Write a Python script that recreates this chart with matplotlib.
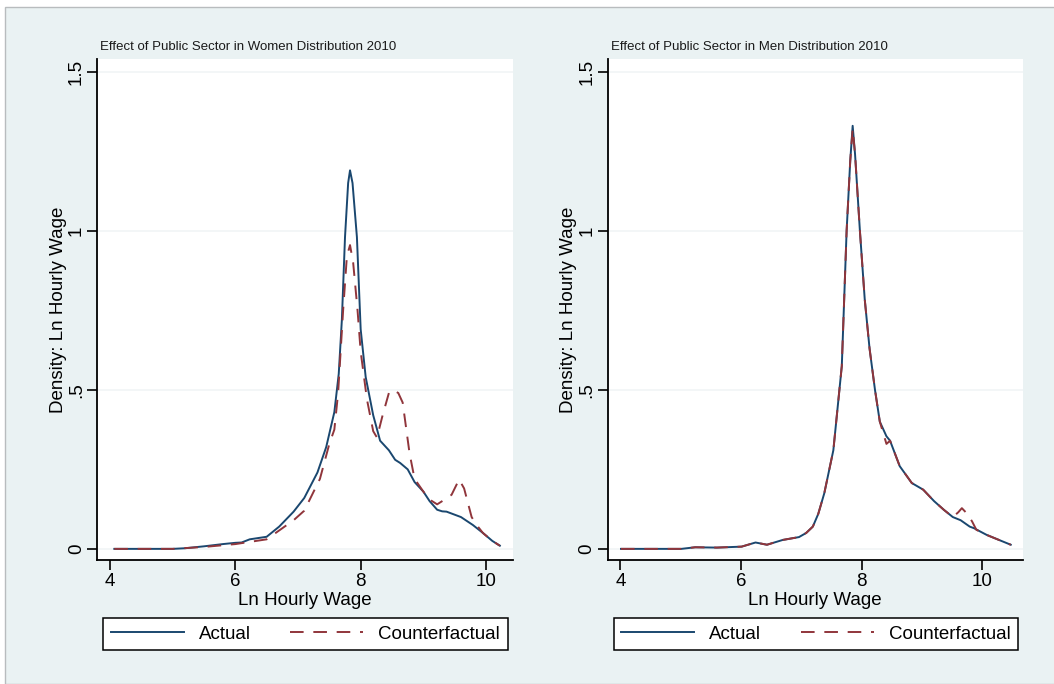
import numpy as np
import matplotlib.pyplot as plt
from matplotlib.lines import Line2D
from matplotlib.patches import Rectangle

plt.rcParams['font.family'] = ['Liberation Sans', 'DejaVu Sans']

# women: ln hourly wage grid and densities
w_x_act = [4.07, 4.5, 5.0, 5.2, 5.5, 5.8, 6.0, 6.1, 6.23, 6.5, 6.7, 6.93, 7.1, 7.31,
           7.45, 7.58, 7.65, 7.70, 7.75, 7.80, 7.83, 7.87, 7.94, 8.0, 8.08, 8.2,
           8.31, 8.45, 8.55, 8.63, 8.75, 8.86, 9.0, 9.1, 9.22, 9.3, 9.37, 9.6,
           9.79, 9.95, 10.1, 10.22]
w_y_act = [0.0, 0.0, 0.0, 0.002, 0.008, 0.015, 0.019, 0.02, 0.03, 0.038, 0.07, 0.117,
           0.16, 0.24, 0.32, 0.43, 0.55, 0.72, 0.98, 1.15, 1.19, 1.15, 0.98, 0.69,
           0.54, 0.42, 0.34, 0.31, 0.28, 0.27, 0.25, 0.21, 0.18, 0.15, 0.123, 0.118,
           0.117, 0.10, 0.075, 0.05, 0.025, 0.01]
w_x_cf = [4.07, 4.5, 5.0, 5.5, 6.0, 6.5, 6.93, 7.1, 7.35, 7.5, 7.58, 7.64, 7.72,
          7.78, 7.83, 7.88, 7.95, 8.0, 8.1, 8.2, 8.26, 8.35, 8.45, 8.51, 8.6, 8.67,
          8.78, 8.86, 9.0, 9.1, 9.22, 9.3, 9.45, 9.57, 9.65, 9.77, 9.85, 9.95, 10.1,
          10.22]
w_y_cf = [0.0, 0.0, 0.0, 0.006, 0.015, 0.03, 0.09, 0.12, 0.22, 0.33, 0.375, 0.49,
          0.75, 0.92, 0.955, 0.9, 0.75, 0.62, 0.47, 0.37, 0.35, 0.42, 0.49, 0.50,
          0.49, 0.46, 0.30, 0.22, 0.18, 0.155, 0.14, 0.15, 0.17, 0.218, 0.19, 0.10,
          0.075, 0.05, 0.025, 0.01]

# men
m_x_act = [4.01, 4.5, 5.01, 5.24, 5.6, 6.01, 6.24, 6.43, 6.69, 6.96, 7.08, 7.19,
           7.28, 7.38, 7.53, 7.67, 7.75, 7.81, 7.85, 7.89, 7.97, 8.05, 8.13, 8.22,
           8.30, 8.41, 8.47, 8.63, 8.83, 9.02, 9.2, 9.36, 9.51, 9.64, 9.79, 9.86,
           10.07, 10.25, 10.47]
m_y_act = [0.0, 0.0, 0.0, 0.005, 0.004, 0.007, 0.02, 0.013, 0.028, 0.037, 0.05, 0.07,
           0.11, 0.175, 0.31, 0.575, 1.0, 1.22, 1.33, 1.24, 1.0, 0.785, 0.63, 0.50,
           0.40, 0.354, 0.34, 0.26, 0.207, 0.186, 0.15, 0.123, 0.10, 0.09, 0.07,
           0.065, 0.044, 0.03, 0.013]
m_x_cf = [4.01, 4.5, 5.01, 5.24, 5.6, 6.01, 6.24, 6.43, 6.69, 6.96, 7.08, 7.19,
          7.28, 7.38, 7.53, 7.67, 7.75, 7.81, 7.85, 7.89, 7.97, 8.05, 8.13, 8.22,
          8.30, 8.41, 8.47, 8.63, 8.83, 9.02, 9.2, 9.36, 9.51, 9.6, 9.66, 9.75,
          9.83, 9.9, 10.07, 10.25, 10.47]
m_y_cf = [0.0, 0.0, 0.0, 0.005, 0.004, 0.007, 0.02, 0.013, 0.028, 0.037, 0.05, 0.07,
          0.11, 0.175, 0.31, 0.575, 1.0, 1.22, 1.32, 1.24, 1.0, 0.785, 0.63, 0.50,
          0.40, 0.33, 0.34, 0.26, 0.207, 0.186, 0.15, 0.123, 0.10, 0.115, 0.128,
          0.11, 0.086, 0.06, 0.044, 0.03, 0.013]

titles = ['Effect of Public Sector in Women Distribution 2010',
          'Effect of Public Sector in Men Distribution 2010']
xticks = [4, 6, 8, 10]
yticks = [0, 0.5, 1, 1.5]
ylabels = ['0', '.5', '1', '1.5']

navy = '#1a476f'
maroon = '#90353b'
bg = '#eaf2f3'

fig = plt.figure(figsize=(10.54, 6.84), dpi=100, facecolor='white')
fig.patches.append(Rectangle((5 / 1054, 0), 1, 1 - 7 / 684, transform=fig.transFigure,
                             facecolor=bg, edgecolor='#b8bcbe', lw=1, zorder=-10))

W, H = 1054, 684
boxes = [(97.4, 513, 3.80, 10.43), (607.7, 1022.8, 3.79, 10.67)]
data = [(w_x_act, w_y_act, w_x_cf, w_y_cf), (m_x_act, m_y_act, m_x_cf, m_y_cf)]

for i in range(2):
    x0, x1, xmin, xmax = boxes[i]
    ax = fig.add_axes([x0 / W, (H - 560) / H, (x1 - x0) / W, (560 - 59) / H])
    ax.set_facecolor('white')
    xa, ya, xc, yc = data[i]
    ax.plot(xa, ya, color=navy, lw=1.4, zorder=3)
    ax.plot(xc, yc, color=maroon, lw=1.4, dashes=(7, 5), zorder=4)
    ax.set_xlim(xmin, xmax)
    ax.set_ylim(-0.035, 1.54)
    ax.set_xticks(xticks)
    ax.set_yticks(yticks)
    ax.set_yticklabels(ylabels, rotation=90, va='center')
    ax.tick_params(labelsize=13.5, length=7, width=1.2, pad=2)
    ax.grid(axis='y', color='#f1f5f6', lw=1.2)
    ax.set_axisbelow(True)
    for s in ['top', 'right']:
        ax.spines[s].set_visible(False)
    for s in ['left', 'bottom']:
        ax.spines[s].set_linewidth(1.3)
    ax.set_xlabel('Ln Hourly Wage', fontsize=13.5, labelpad=2)
    ax.set_ylabel('Density: Ln Hourly Wage', fontsize=13.5, labelpad=1)
    fig.text((x0 + 3) / W, (H - 47) / H, titles[i], fontsize=9.5, va='center',
             color='#1a1a1a')
    handles = [Line2D([], [], color=navy, lw=1.4),
               Line2D([], [], color=maroon, lw=1.4, dashes=(7, 5))]
    leg = ax.legend(handles, ['Actual', 'Counterfactual'], ncol=2, loc='center',
                    bbox_to_anchor=((7 + 201) / (x1 - x0), (560 - 634) / (560 - 59)),
                    fontsize=13.5, frameon=True, fancybox=False, framealpha=1,
                    edgecolor='black', handlelength=3.9, handletextpad=0.8,
                    columnspacing=2.1, borderpad=0.4)
    leg.get_frame().set_linewidth(1.1)

plt.savefig('out.png', dpi=100, facecolor=fig.get_facecolor())
